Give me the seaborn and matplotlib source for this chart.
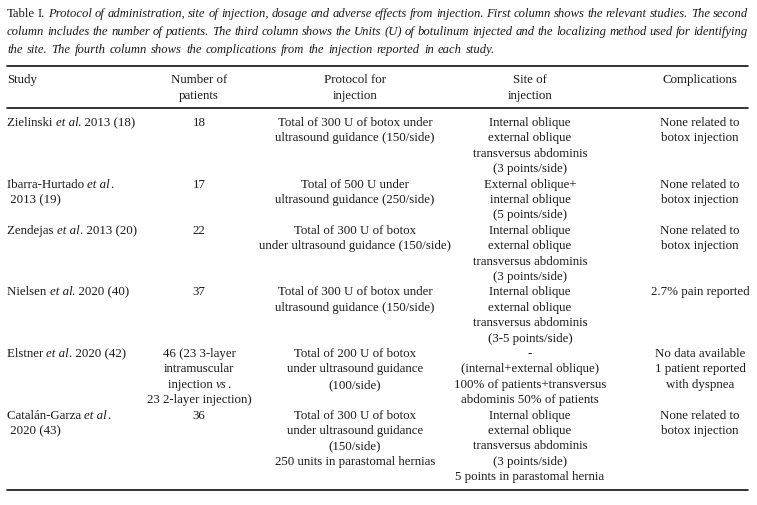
import matplotlib
matplotlib.use("Agg")
import matplotlib.pyplot as plt
import seaborn as sns

# Table I: botox protocols, sites and complications
caption_label = "Table I."
caption_lines = [
    "Protocol of administration, site of injection, dosage and adverse effects from injection. First column shows the relevant studies. The second",
    "column includes the number of patients. The third column shows the Units (U) of botulinum injected and the localizing method used for identifying",
    "the site. The fourth column shows the complications from the injection reported in each study.",
]

headers = [["Study"], ["Number of", "patients"], ["Protocol for", "injection"],
           ["Site of", "injection"], ["Complications"]]

# *...* marks italic text
studies = [["Zielinski *et al*. 2013 (18)"],
           ["Ibarra-Hurtado *et al*.", " 2013 (19)"],
           ["Zendejas *et al*. 2013 (20)"],
           ["Nielsen *et al*. 2020 (40)"],
           ["Elstner *et al*. 2020 (42)"],
           ["Catalán-Garza *et al*.", " 2020 (43)"]]
patients = [["18"], ["17"], ["22"], ["37"],
            ["46 (23 3-layer", "intramuscular", "injection *vs*.", "23 2-layer injection)"],
            ["36"]]
protocols = [["Total of 300 U of botox under", "ultrasound guidance (150/side)"],
             ["Total of 500 U under", "ultrasound guidance (250/side)"],
             ["Total of 300 U of botox", "under ultrasound guidance (150/side)"],
             ["Total of 300 U of botox under", "ultrasound guidance (150/side)"],
             ["Total of 200 U of botox", "under ultrasound guidance", "(100/side)"],
             ["Total of 300 U of botox", "under ultrasound guidance", "(150/side)",
              "250 units in parastomal hernias"]]
sites = [["Internal oblique", "external oblique", "transversus abdominis", "(3 points/side)"],
         ["External oblique+", "internal oblique", "(5 points/side)"],
         ["Internal oblique", "external oblique", "transversus abdominis", "(3 points/side)"],
         ["Internal oblique", "external oblique", "transversus abdominis", "(3-5 points/side)"],
         ["-", "(internal+external oblique)", "100% of patients+transversus",
          "abdominis 50% of patients"],
         ["Internal oblique", "external oblique", "transversus abdominis", "(3 points/side)",
          "5 points in parastomal hernia"]]
complications = [["None related to", "botox injection"],
                 ["None related to", "botox injection"],
                 ["None related to", "botox injection"],
                 ["2.7% pain reported"],
                 ["No data available", "1 patient reported", "with dyspnea"],
                 ["None related to", "botox injection"]]

columns = [studies, patients, protocols, sites, complications]
col_x = [7, 199, 355, 530, 700]
col_ha = ["left", "center", "center", "center", "center"]

sns.set_style("white")
plt.rcParams['font.family'] = ['Liberation Serif', 'DejaVu Serif']
FS = 9.3
CAP_FS = 9.1
INK = "#1a1a1a"

fig = plt.figure(figsize=(7.57, 5.06), dpi=100)
ax = fig.add_axes([0, 0, 1, 1])
ax.set_xlim(0, 757)
ax.set_ylim(506, 0)
ax.axis("off")
renderer = fig.canvas.get_renderer()


def width(t):
    return t.get_window_extent(renderer).width


def draw_line(s, x, y, ha="left", fs=FS):
    parts = s.split("*")
    texts = []
    for i, p in enumerate(parts):
        if not p:
            continue
        t = ax.text(0, y, p, fontsize=fs, color=INK, va="center", ha="left",
                    style="italic" if i % 2 else "normal")
        texts.append(t)
    widths = [width(t) for t in texts]
    total = sum(widths)
    start = x - total / 2 if ha == "center" else x
    for t, w in zip(texts, widths):
        t.set_x(start)
        start += w


# caption, justified on the first two lines
left, right = 7, 748
cap_y = [14, 32, 50]
for li, line in enumerate(caption_lines):
    words = [(w, True) for w in line.split(" ")]
    if li == 0:
        words = [(w, False) for w in caption_label.split(" ")] + words
    texts = [ax.text(0, cap_y[li], w, fontsize=CAP_FS, color=INK, va="center",
                     style="italic" if it else "normal") for w, it in words]
    widths = [width(t) for t in texts]
    if li < 2:
        gap = (right - left - sum(widths)) / (len(texts) - 1)
    else:
        sp = ax.text(0, 0, "a a", fontsize=CAP_FS, style="italic")
        sa = ax.text(0, 0, "aa", fontsize=CAP_FS, style="italic")
        gap = width(sp) - width(sa) + 1
        sp.remove()
        sa.remove()
    xx = left
    for t, w in zip(texts, widths):
        t.set_x(xx)
        xx += w + gap

# rules
lw = 1.25
ax.plot([7, 748], [67, 67], color=INK, lw=lw)
ax.plot([7, 748], [109, 109], color=INK, lw=lw)
ax.plot([7, 748], [491, 491], color=INK, lw=lw)

# header
for c, head in enumerate(headers):
    for k, h in enumerate(head):
        draw_line(h, col_x[c], 80 + 16 * k, col_ha[c])

# body
step = 15.4
y0 = 123
row = 0
for r in range(len(studies)):
    n = max(len(col[r]) for col in columns)
    for c, col in enumerate(columns):
        for k, s in enumerate(col[r]):
            draw_line(s, col_x[c], y0 + step * (row + k), col_ha[c])
    row += n

fig.savefig("out.png", dpi=100)
